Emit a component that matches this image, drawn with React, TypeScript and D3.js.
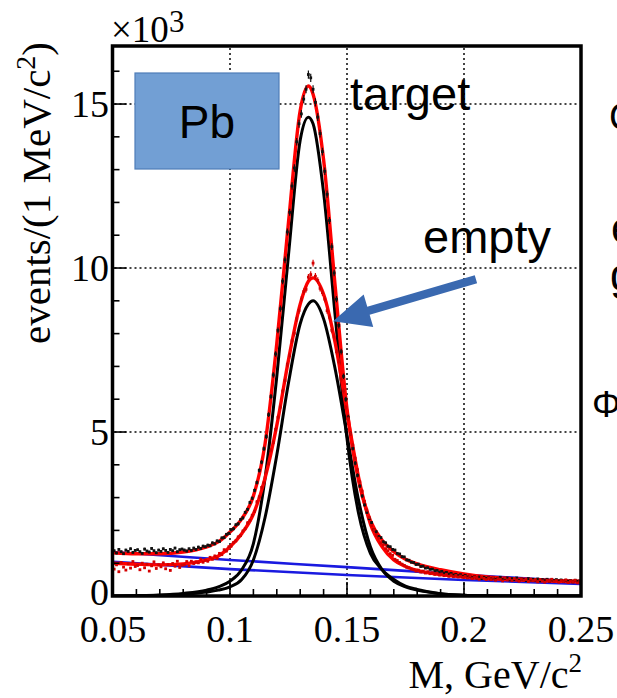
import React, { useEffect } from "react";
import * as d3 from "d3";

// ---------- DATA (values in units of 10^3 events per 1 MeV/c^2) ----------
const massGrid = [0.05, 0.06, 0.07, 0.08, 0.09, 0.095, 0.10, 0.105, 0.11, 0.115, 0.12, 0.125, 0.13, 0.1335, 0.1355, 0.14, 0.145, 0.15, 0.155, 0.16, 0.165, 0.17, 0.175, 0.18, 0.19, 0.20, 0.21, 0.22, 0.23, 0.24, 0.25];

const targetFit = [1.32, 1.29, 1.29, 1.34, 1.50, 1.65, 1.95, 2.35, 3.05, 4.65, 7.7, 11.4, 14.8, 15.55, 15.3, 13.3, 9.4, 5.7, 3.5, 2.3, 1.7, 1.35, 1.12, 0.98, 0.8, 0.67, 0.58, 0.53, 0.5, 0.47, 0.45];
const targetSignal = [0, 0.01, 0.03, 0.08, 0.18, 0.28, 0.45, 0.8, 1.6, 3.6, 6.7, 10.4, 13.9, 14.6, 14.4, 12.3, 8.5, 4.8, 2.5, 1.3, 0.8, 0.5, 0.3, 0.2, 0.07, 0.025, 0.008, 0, 0, 0, 0];
const emptyFit = [1.0, 0.97, 0.95, 0.98, 1.1, 1.22, 1.5, 1.9, 2.5, 3.6, 5.2, 7.2, 8.9, 9.6, 9.7, 9.2, 7.7, 5.6, 3.6, 2.2, 1.5, 1.1, 0.9, 0.78, 0.65, 0.58, 0.53, 0.5, 0.47, 0.45, 0.43];
const emptySignal = [0, 0.01, 0.02, 0.05, 0.12, 0.18, 0.28, 0.5, 1.1, 2.4, 4.3, 6.5, 8.3, 8.9, 9.0, 8.45, 6.9, 4.9, 2.9, 1.5, 0.8, 0.45, 0.28, 0.18, 0.07, 0.02, 0.005, 0, 0, 0, 0];

const bgMass = [0.05, 0.10, 0.15, 0.20, 0.25];
const targetBg = [1.34, 1.10, 0.88, 0.65, 0.43];
const emptyBg = [1.04, 0.82, 0.64, 0.49, 0.37];

// histogram bins: 1 MeV/c^2 wide, starting at 0.05 GeV/c^2
const binStart = 0.05;
const binWidth = 0.001;
const targetData = [
  1.38, 1.31, 1.42, 1.35, 1.29, 1.40, 1.36, 1.44, 1.33, 1.39,
  1.41, 1.35, 1.30, 1.43, 1.37, 1.34, 1.45, 1.38, 1.32, 1.40,
  1.36, 1.44, 1.39, 1.33, 1.42, 1.38, 1.46, 1.35, 1.41, 1.43,
  1.40, 1.37, 1.44, 1.39, 1.46, 1.42, 1.49, 1.45, 1.52, 1.50,
  1.55, 1.53, 1.62, 1.59, 1.68, 1.66, 1.77, 1.78, 1.88, 1.91,
  2.02, 2.05, 2.17, 2.20, 2.33, 2.38, 2.55, 2.64, 2.85, 2.98,
  3.22, 3.46, 3.83, 4.08, 4.49, 4.86, 5.53, 6.08, 6.74, 7.38,
  8.10, 8.76, 9.60, 10.25, 11.10, 11.70, 12.50, 13.05, 13.85, 14.40,
  14.70, 15.15, 15.45, 15.90, 15.80, 15.45, 15.05, 14.60, 14.10, 13.55,
  12.95, 12.25, 11.45, 10.65, 9.85, 9.05, 8.25, 7.45, 6.70, 6.00,
  5.45, 4.95, 4.50, 4.05, 3.68, 3.35, 3.05, 2.78, 2.55, 2.36,
  2.24, 2.02, 1.96, 1.81, 1.78, 1.65, 1.62, 1.52, 1.50, 1.42,
  1.40, 1.30, 1.28, 1.20, 1.19, 1.10, 1.09, 1.03, 1.02, 0.96,
  0.97, 0.90, 0.91, 0.85, 0.86, 0.81, 0.82, 0.77, 0.78, 0.73,
  0.75, 0.70, 0.72, 0.67, 0.69, 0.64, 0.66, 0.62, 0.65, 0.60,
  0.63, 0.58, 0.61, 0.56, 0.59, 0.55, 0.58, 0.53, 0.57, 0.54,
  0.56, 0.52, 0.55, 0.51, 0.54, 0.57, 0.50, 0.53, 0.55, 0.49,
  0.53, 0.50, 0.55, 0.48, 0.52, 0.50, 0.47, 0.53, 0.49, 0.51,
  0.48, 0.52, 0.46, 0.50, 0.47, 0.51, 0.45, 0.49, 0.47, 0.50,
  0.46, 0.49, 0.44, 0.48, 0.45, 0.47, 0.43, 0.48, 0.45, 0.46,
];
const emptyData = [
  0.82, 0.95, 0.74, 1.02, 0.88, 0.79, 0.98, 0.85, 1.05, 0.90,
  0.93, 0.80, 1.00, 0.86, 0.97, 0.76, 0.92, 1.04, 0.84, 0.95,
  0.89, 1.01, 0.83, 0.96, 0.78, 0.99, 0.91, 1.06, 0.87, 0.94,
  0.95, 1.05, 0.92, 1.06, 0.99, 1.04, 1.01, 1.12, 1.03, 1.09,
  1.06, 1.18, 1.12, 1.22, 1.15, 1.30, 1.26, 1.41, 1.37, 1.50,
  1.52, 1.63, 1.68, 1.80, 1.84, 1.98, 2.05, 2.23, 2.30, 2.46,
  2.58, 2.87, 3.02, 3.31, 3.45, 3.80, 4.04, 4.45, 4.68, 5.08,
  5.45, 5.76, 6.25, 6.57, 7.06, 7.33, 7.78, 8.01, 8.45, 8.70,
  9.05, 9.28, 9.35, 9.72, 9.80, 10.15, 9.75, 9.62, 9.38, 9.25,
  9.05, 8.70, 8.50, 8.10, 7.90, 7.45, 7.15, 6.60, 6.25, 5.75,
  5.40, 4.95, 4.60, 4.20, 3.85, 3.48, 3.20, 2.88, 2.62, 2.40,
  2.15, 2.02, 1.85, 1.76, 1.62, 1.55, 1.44, 1.38, 1.29, 1.24,
  1.12, 1.08, 1.02, 0.97, 0.93, 0.88, 0.86, 0.82, 0.80, 0.76,
  0.79, 0.73, 0.76, 0.70, 0.74, 0.68, 0.71, 0.66, 0.69, 0.64,
  0.67, 0.62, 0.66, 0.60, 0.64, 0.59, 0.63, 0.58, 0.61, 0.57,
  0.60, 0.55, 0.62, 0.53, 0.58, 0.56, 0.51, 0.57, 0.54, 0.50,
  0.55, 0.50, 0.57, 0.48, 0.53, 0.51, 0.46, 0.55, 0.49, 0.52,
  0.47, 0.53, 0.49, 0.45, 0.52, 0.48, 0.50, 0.44, 0.51, 0.47,
  0.49, 0.43, 0.50, 0.46, 0.42, 0.48, 0.45, 0.51, 0.44, 0.47,
  0.42, 0.47, 0.44, 0.49, 0.41, 0.46, 0.43, 0.48, 0.40, 0.45,
];

const xMajorTicks = [0.05, 0.1, 0.15, 0.2, 0.25];
const xTickLabels = ["0.05", "0.1", "0.15", "0.2", "0.25"];
const yMajorTicks = [0, 5, 10, 15];
const yTickLabels = ["0", "5", "10", "15"];

// ---------- LAYOUT ----------
const W = 617;
const H = 698;
const L = 112.5, R = 581, T = 46, B = 596;
const SERIF = "'Liberation Serif', 'Times New Roman', serif";
const SANS = "'Liberation Sans', Arial, sans-serif";

export default function App() {
  useEffect(() => {
    document.body.style.margin = "0";
  }, []);

  const x = d3.scaleLinear().domain([0.05, 0.25]).range([113, 581]);
  const y = d3.scaleLinear().domain([0, 16.8]).range([B, T - 1]);

  const curve = (xs: number[], ys: number[]) =>
    d3
      .line<number>()
      .x((_, i) => x(xs[i]))
      .y((v) => y(v))
      .curve(d3.curveMonotoneX)(ys) || "";

  const xMinor = d3.range(0, 21).map((i) => 0.05 + i * 0.01);
  const yMinor = d3.range(0, 17);

  const dataPts = (vals: number[]) =>
    vals.map((v, i) => {
      const m = binStart + (i + 0.5) * binWidth;
      const err = Math.sqrt(v * 1000) / 1000;
      return { m, v, err };
    });

  const renderData = (vals: number[], color: string) =>
    dataPts(vals).map((p, i) => (
      <g key={i}>
        <line x1={x(p.m)} x2={x(p.m)} y1={y(p.v + p.err)} y2={y(p.v - p.err)} stroke={color} strokeWidth={1.2} />
        <rect x={x(p.m) - 1.4} y={y(p.v) - 1.4} width={2.8} height={2.8} fill={color} />
      </g>
    ));

  // arrow geometry (annotation, in data coordinates)
  const tail = [x(0.2051), y(9.66)];
  const tip = [x(0.1440), y(8.38)];
  const dx = tip[0] - tail[0], dy = tip[1] - tail[1];
  const len = Math.hypot(dx, dy);
  const ux = dx / len, uy = dy / len;
  const nx = -uy, ny = ux;
  const headLen = 37, headHalf = 17, shaftHalf = 4.2;
  const bx = tip[0] - ux * headLen, by = tip[1] - uy * headLen;
  const arrowPts = [
    [tail[0] + nx * shaftHalf, tail[1] + ny * shaftHalf],
    [bx + nx * shaftHalf, by + ny * shaftHalf],
    [bx + nx * headHalf, by + ny * headHalf],
    [tip[0], tip[1]],
    [bx - nx * headHalf, by - ny * headHalf],
    [bx - nx * shaftHalf, by - ny * shaftHalf],
    [tail[0] - nx * shaftHalf, tail[1] - ny * shaftHalf],
  ]
    .map((p) => p.join(","))
    .join(" ");

  return (
    <div style={{ position: "absolute", left: 0, top: 0, width: W, height: H, background: "#fff" }}>
      <svg width={W} height={H} viewBox={`0 0 ${W} ${H}`} style={{ display: "block" }}>
        <defs>
          <clipPath id="plot">
            <rect x={L} y={T} width={R - L} height={B - T} />
          </clipPath>
        </defs>
        <rect width={W} height={H} fill="#fff" />

        {/* grid */}
        <g stroke="#444" strokeWidth={2} strokeDasharray="2 3">
          {[0.1, 0.15, 0.2].map((t) => (
            <line key={"gx" + t} x1={x(t)} x2={x(t)} y1={T + 2} y2={B - 2} />
          ))}
          {[5, 10, 15].map((t) => (
            <line key={"gy" + t} x1={L + 2} x2={R - 2} y1={y(t)} y2={y(t)} />
          ))}
        </g>

        {/* Pb box */}
        <rect x={135} y={73} width={144} height={96} fill="#729fd4" stroke="#4f7db8" strokeWidth={1.2} />
        <text x={207} y={138} textAnchor="middle" fontFamily={SANS} fontSize={46} fill="#000">Pb</text>

        {/* curves */}
        <g clipPath="url(#plot)" fill="none" strokeLinejoin="round">
          <path d={curve(bgMass, targetBg)} stroke="#1a1ae0" strokeWidth={2.6} />
          <path d={curve(bgMass, emptyBg)} stroke="#1a1ae0" strokeWidth={2.6} />
          <path d={curve(massGrid, targetSignal)} stroke="#000" strokeWidth={3} />
          <path d={curve(massGrid, emptySignal)} stroke="#000" strokeWidth={3} />
          <path d={curve(massGrid, targetFit)} stroke="#ff0000" strokeWidth={3.4} />
          <path d={curve(massGrid, emptyFit)} stroke="#ff0000" strokeWidth={3.4} />
          {renderData(targetData, "#111")}
          {renderData(emptyData, "#d40000")}
        </g>

        {/* ticks */}
        <g stroke="#000" strokeWidth={1.6}>
          {xMinor.map((t, i) => {
            const major = i % 5 === 0;
            return <line key={"xt" + i} x1={x(t)} x2={x(t)} y1={B} y2={B - (major ? 14 : 7)} />;
          })}
          {yMinor.map((t) => {
            const major = t % 5 === 0;
            return <line key={"yt" + t} x1={L} x2={L + (major ? 14 : 7)} y1={y(t)} y2={y(t)} />;
          })}
        </g>

        {/* frame */}
        <rect x={L} y={T} width={R - L} height={B - T} fill="none" stroke="#000" strokeWidth={3.5} />

        {/* tick labels */}
        <g fontFamily={SERIF} fontSize={38} fill="#000">
          {xMajorTicks.map((t, i) => (
            <text key={"xl" + i} x={x(t)} y={642} textAnchor="middle">{xTickLabels[i]}</text>
          ))}
          {yMajorTicks.map((t, i) => (
            <text key={"yl" + i} x={109} y={y(t) + (t === 0 ? 9 : 13)} textAnchor="end">{yTickLabels[i]}</text>
          ))}
        </g>

        {/* exponent */}
        <text x={111} y={42} fontFamily={SERIF} fontSize={37} fill="#000">
          ×10<tspan fontSize={31} dy={-10}>3</tspan>
        </text>

        {/* axis titles */}
        <text transform="translate(50,193) rotate(-90)" textAnchor="middle" fontFamily={SERIF} fontSize={41} fill="#000">
          events/(1 MeV/c<tspan fontSize={28} dy={-15}>2</tspan><tspan dy={15}>)</tspan>
        </text>
        <text x={582} y={688} textAnchor="end" fontFamily={SERIF} fontSize={40} fill="#000">
          M, GeV/c<tspan fontSize={27} dy={-16}>2</tspan>
        </text>

        {/* annotations */}
        <text x={350} y={110} fontFamily={SANS} fontSize={47} fill="#000">target</text>
        <text x={423} y={253} fontFamily={SANS} fontSize={47} fill="#000">empty</text>
        <polygon points={arrowPts} fill="#3a69b0" />

        {/* partially visible slide text on the right */}
        <g fontFamily={SANS} fill="#000">
          <text x={609} y={130} fontSize={38}>C</text>
          <text x={611} y={243} fontSize={44}>e</text>
          <text x={610} y={290} fontSize={44}>g</text>
          <text x={592} y={417} fontSize={36}>Φ</text>
        </g>
      </svg>
    </div>
  );
}
